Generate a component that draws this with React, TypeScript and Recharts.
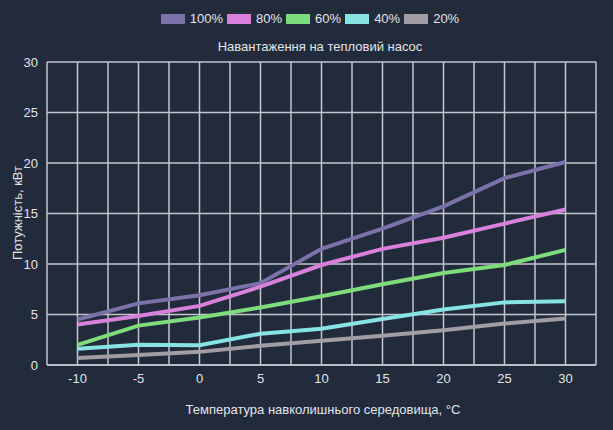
import { LineChart, Line, XAxis, YAxis, CartesianGrid, ReferenceLine } from "recharts";

const temps = [-10, -5, 0, 5, 10, 15, 20, 25, 30];
const load100 = [4.5, 6.1, 6.9, 8.1, 11.5, 13.5, 15.7, 18.5, 20.1];
const load80 = [4.0, 4.85, 5.85, 7.75, 9.9, 11.5, 12.6, 14.0, 15.4];
const load60 = [2.0, 3.9, 4.7, 5.7, 6.8, 8.0, 9.1, 9.9, 11.4];
const load40 = [1.6, 2.0, 1.95, 3.1, 3.6, 4.55, 5.5, 6.2, 6.3];
const load20 = [0.7, 1.0, 1.3, 1.9, 2.4, 2.9, 3.45, 4.1, 4.6];

const xTicks = [-10, -5, 0, 5, 10, 15, 20, 25, 30];
const yTicks = [0, 5, 10, 15, 20, 25, 30];
const xGrid = [-12.5, -10, -7.5, -5, -2.5, 0, 2.5, 5, 7.5, 10, 12.5, 15, 17.5, 20, 22.5, 25, 27.5, 30, 32.5];

const series = [
  { key: "p100", name: "100%", color: "#7b72aa", values: load100 },
  { key: "p80", name: "80%", color: "#d980dc", values: load80 },
  { key: "p60", name: "60%", color: "#7fdc7b", values: load60 },
  { key: "p40", name: "40%", color: "#88e4e4", values: load40 },
  { key: "p20", name: "20%", color: "#a29ca4", values: load20 },
];

const data = temps.map((t, i) => {
  const row: Record<string, number> = { t };
  series.forEach(s => (row[s.key] = s.values[i]));
  return row;
});

const font = '"Liberation Sans", Arial, sans-serif';
const textColor = "#e2e4e8";
const gridColor = "#c3c6ce";

export default function App() {
  return (
    <div style={{ position: "fixed", left: 0, top: 0, width: 613, height: 430, background: "#222b3b", fontFamily: font, color: textColor }}>
      <div style={{ position: "absolute", top: 11, left: 0, width: 624, display: "flex", justifyContent: "center", alignItems: "center", fontSize: 13 }}>
        {series.map(s => (
          <div key={s.key} style={{ display: "flex", alignItems: "center", marginRight: 4 }}>
            <span style={{ display: "inline-block", width: 24, height: 10, background: s.color, marginRight: 5 }} />
            <span>{s.name}</span>
          </div>
        ))}
      </div>
      <div style={{ position: "absolute", top: 39, left: 0, width: 640, textAlign: "center", fontSize: 13 }}>
        Навантаження на тепловий насос
      </div>
      <div style={{ position: "absolute", top: 402, left: 0, width: 646, textAlign: "center", fontSize: 13 }}>
        Температура навколишнього середовища, °C
      </div>
      <div style={{ position: "absolute", left: 17, top: 213, width: 0, height: 0 }}>
        <div style={{ position: "absolute", transform: "translate(-50%, -50%) rotate(-90deg)", whiteSpace: "nowrap", fontSize: 13 }}>
          Потужність, кВт
        </div>
      </div>
      <LineChart width={613} height={430} data={data} margin={{ top: 62, right: 17, left: 0, bottom: 0 }}>
        <CartesianGrid vertical={false} stroke={gridColor} strokeWidth={1.5} />
        {xGrid.map(v => (
          <ReferenceLine key={v} x={v} stroke={gridColor} strokeWidth={1.5} />
        ))}
        <XAxis
          dataKey="t"
          type="number"
          domain={[-12.5, 32.5]}
          ticks={xTicks}
          height={65}
          tickSize={0}
          tickMargin={9}
          axisLine={{ stroke: gridColor, strokeWidth: 1.5 }}
          tick={{ fill: textColor, fontSize: 13, fontFamily: font }}
        />
        <YAxis
          type="number"
          domain={[0, 30]}
          ticks={yTicks}
          width={47}
          tickSize={0}
          tickMargin={9}
          axisLine={false}
          tick={{ fill: textColor, fontSize: 13, fontFamily: font }}
        />
        {series.map(s => (
          <Line
            key={s.key}
            dataKey={s.key}
            name={s.name}
            stroke={s.color}
            strokeWidth={4}
            dot={false}
            type="linear"
            isAnimationActive={false}
          />
        ))}
      </LineChart>
    </div>
  );
}
